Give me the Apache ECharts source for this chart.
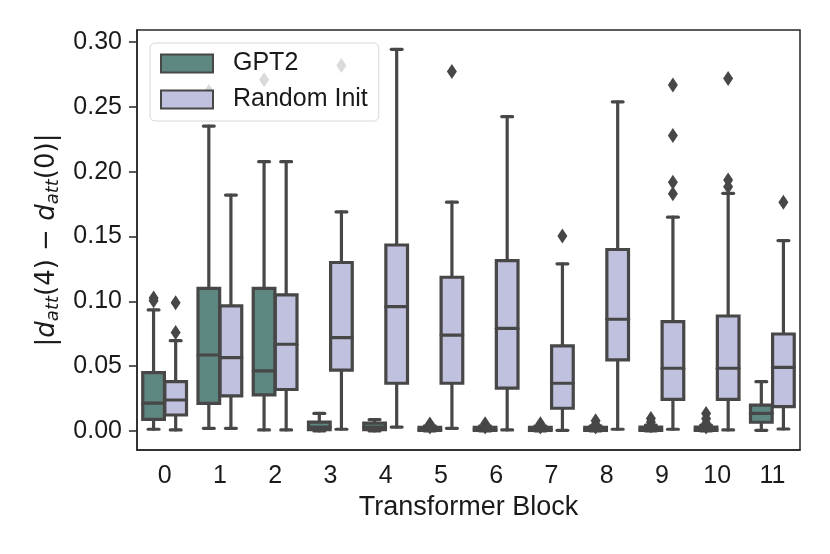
<!DOCTYPE html>
<html>
<head>
<meta charset="utf-8">
<script src="https://cdn.jsdelivr.net/npm/echarts@6/dist/echarts.min.js"></script>
<style>
  html, body { margin: 0; padding: 0; background: #fff; }
  #main { width: 830px; height: 554px; }
</style>
</head>
<body>
<div id="main"></div>
<script>
// transformer blocks on the x axis
var blocks = ['0', '1', '2', '3', '4', '5', '6', '7', '8', '9', '10', '11'];
var yTicks = [0, 0.05, 0.10, 0.15, 0.20, 0.25, 0.30];

// box stats per block: [whiskerLow, q1, median, q3, whiskerHigh]
var gpt2Box = [
  [0.0013, 0.009, 0.0214, 0.045, 0.0934],
  [0.002, 0.0213, 0.0586, 0.110, 0.2353],
  [0.0008, 0.0278, 0.0463, 0.110, 0.2078],
  [0, 0.001, 0.003, 0.0068, 0.0135],
  [0, 0.001, 0.003, 0.006, 0.0088],
  [0, 0.0004, 0.0012, 0.0028, 0.004],
  [0, 0.0004, 0.0012, 0.0028, 0.004],
  [0, 0.0004, 0.0012, 0.0028, 0.004],
  [0, 0.0004, 0.0012, 0.0028, 0.004],
  [0, 0.0004, 0.0012, 0.003, 0.0045],
  [0, 0.0004, 0.0012, 0.003, 0.0045],
  [0.0005, 0.0067, 0.0136, 0.020, 0.038]
];
var randBox = [
  [0.0008, 0.0123, 0.0239, 0.038, 0.0697],
  [0.002, 0.027, 0.0566, 0.0965, 0.182],
  [0.0008, 0.032, 0.0669, 0.105, 0.2078],
  [0.0013, 0.047, 0.072, 0.130, 0.169],
  [0.003, 0.0368, 0.0959, 0.1435, 0.2945],
  [0.002, 0.0368, 0.074, 0.1186, 0.1765],
  [0.0008, 0.033, 0.0792, 0.1314, 0.2425],
  [0.0005, 0.0175, 0.0368, 0.0656, 0.129],
  [0.0013, 0.0548, 0.0862, 0.140, 0.254],
  [0.0013, 0.0244, 0.0484, 0.0844, 0.165],
  [0.0008, 0.0244, 0.0484, 0.0887, 0.1834],
  [0.0015, 0.0188, 0.0491, 0.0748, 0.1469]
];

// outliers: [block, value]
var gpt2Outliers = [
  [0, 0.1005], [0, 0.1025],
  [1, 0.262], [2, 0.271],
  [5, 0.0054], [5, 0.003],
  [6, 0.0055], [6, 0.003],
  [7, 0.0055], [7, 0.003],
  [8, 0.0079], [8, 0.005], [8, 0.003],
  [9, 0.0097], [9, 0.007], [9, 0.004],
  [10, 0.0135], [10, 0.0095], [10, 0.006], [10, 0.003]
];
var randOutliers = [
  [0, 0.099], [0, 0.076],
  [3, 0.282],
  [5, 0.2773],
  [7, 0.1505],
  [9, 0.267], [9, 0.228], [9, 0.192], [9, 0.183],
  [10, 0.272], [10, 0.1937], [10, 0.1885],
  [11, 0.1765]
];

var lineColor = '#474747';
var gpt2Color = '#5f8782';
var randColor = '#c0c1de';

function boxRender(side) {
  return function (params, api) {
    var cat = api.value(0);
    var band = api.size([1, 0])[0];
    var cx = api.coord([cat, 0])[0] + side * band * 0.2;
    var w = band * 0.4 * 0.98;
    function y(k) { return api.coord([cat, api.value(k)])[1]; }
    var yMin = y(1), yQ1 = y(2), yMed = y(3), yQ3 = y(4), yMax = y(5);
    var st = { stroke: lineColor, lineWidth: 3.2, lineCap: 'round' };
    var fill = side < 0 ? gpt2Color : randColor;
    return {
      type: 'group',
      children: [
        { type: 'line', shape: { x1: cx, y1: yQ3, x2: cx, y2: yMax }, style: st },
        { type: 'line', shape: { x1: cx, y1: yQ1, x2: cx, y2: yMin }, style: st },
        { type: 'line', shape: { x1: cx - w / 4, y1: yMax, x2: cx + w / 4, y2: yMax }, style: st },
        { type: 'line', shape: { x1: cx - w / 4, y1: yMin, x2: cx + w / 4, y2: yMin }, style: st },
        { type: 'rect', shape: { x: cx - w / 2, y: yQ3, width: w, height: yQ1 - yQ3 },
          style: { fill: fill, stroke: lineColor, lineWidth: 3.2 } },
        { type: 'line', shape: { x1: cx - w / 2, y1: yMed, x2: cx + w / 2, y2: yMed }, style: st }
      ]
    };
  };
}

function withIndex(rows) {
  return rows.map(function (r, i) { return [i].concat(r); });
}

var myChart = echarts.init(document.getElementById('main'));
myChart.setOption({
  animation: false,
  textStyle: { fontFamily: 'Liberation Sans, Arial, sans-serif' },
  grid: {
    left: 137, right: 30, top: 30, bottom: 104,
    show: true, borderColor: '#262626', borderWidth: 1.5
  },
  legend: {
    data: ['GPT2', 'Random Init'],
    orient: 'vertical',
    left: 150, top: 43,
    icon: 'rect',
    itemWidth: 52, itemHeight: 18, itemGap: 11,
    padding: [8, 11, 9, 10],
    backgroundColor: 'rgba(255,255,255,0.8)',
    borderColor: '#d6d6d6', borderWidth: 1, borderRadius: 5,
    itemStyle: { borderColor: lineColor, borderWidth: 2 },
    textStyle: { fontSize: 25, color: '#1a1a1a', padding: [0, 0, 0, 15] }
  },
  xAxis: {
    type: 'category',
    data: blocks,
    name: 'Transformer Block',
    nameLocation: 'middle',
    nameGap: 44,
    nameTextStyle: { fontSize: 27, color: '#1a1a1a' },
    axisLine: { onZero: false, lineStyle: { color: '#262626', width: 1.5 } },
    axisTick: { alignWithLabel: true, length: 8, lineStyle: { color: '#262626', width: 1.5 } },
    axisLabel: { fontSize: 25, color: '#1a1a1a', margin: 14 }
  },
  yAxis: {
    type: 'value',
    min: -0.0147, max: 0.3094,
    name: '|{i|d}{s|att}(4) − {i|d}{s|att}(0)|',
    nameLocation: 'middle',
    nameGap: 73,
    nameTextStyle: {
      fontSize: 26, color: '#1a1a1a', fontFamily: 'DejaVu Sans',
      rich: {
        i: { fontSize: 26, fontStyle: 'italic', fontFamily: 'DejaVu Sans', color: '#1a1a1a' },
        s: { fontSize: 18, fontStyle: 'italic', fontFamily: 'DejaVu Sans', color: '#1a1a1a',
             verticalAlign: 'bottom', padding: [12, 0, 0, 0] }
      }
    },
    splitLine: { show: false },
    axisLine: { show: true, lineStyle: { color: '#262626', width: 1.5 } },
    axisTick: { show: true, length: 8, customValues: yTicks, lineStyle: { color: '#262626', width: 1.5 } },
    axisLabel: {
      fontSize: 25, color: '#1a1a1a', margin: 15, customValues: yTicks,
      formatter: function (v) { return v.toFixed(2); }
    }
  },
  series: [
    {
      name: 'GPT2', type: 'custom',
      renderItem: boxRender(-1),
      itemStyle: { color: gpt2Color },
      encode: { x: 0, y: [1, 2, 3, 4, 5] },
      data: withIndex(gpt2Box), z: 2
    },
    {
      name: 'Random Init', type: 'custom',
      renderItem: boxRender(1),
      itemStyle: { color: randColor },
      encode: { x: 0, y: [1, 2, 3, 4, 5] },
      data: withIndex(randBox), z: 2
    },
    {
      name: 'GPT2 outliers', type: 'scatter',
      symbol: 'diamond', symbolSize: [10, 15], symbolOffset: [-11, 0],
      itemStyle: { color: lineColor, opacity: 1 },
      data: gpt2Outliers, z: 3
    },
    {
      name: 'Random Init outliers', type: 'scatter',
      symbol: 'diamond', symbolSize: [10, 15], symbolOffset: [11, 0],
      itemStyle: { color: lineColor, opacity: 1 },
      data: randOutliers, z: 3
    }
  ]
});
</script>
</body>
</html>
